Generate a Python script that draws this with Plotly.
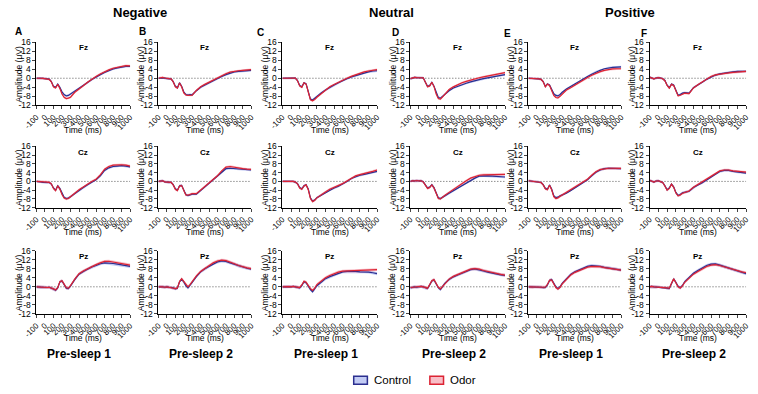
import plotly.graph_objects as go

# ---------------- data ----------------
t_ms = [-100, -75, -50, -25, 0, 25, 50, 75, 100, 125, 150, 175, 200, 225, 250, 275,
        300, 350, 400, 450, 500, 550, 600, 650, 700, 750, 800, 850, 900, 950, 1000]

x_ticks = [-100, 0, 100, 200, 300, 400, 500, 600, 700, 800, 900, 1000]
y_ticks = [-12, -8, -4, 0, 4, 8, 12, 16]

valences = ["Negative", "Neutral", "Positive"]
sessions = ["Pre-sleep 1", "Pre-sleep 2", "Pre-sleep 1", "Pre-sleep 2", "Pre-sleep 1", "Pre-sleep 2"]
panel_letters = ["A", "B", "C", "D", "E", "F"]
channels = ["Fz", "Cz", "Pz"]
conditions = ["Control", "Odor"]

# SEM (µV) per channel row
sem_control = [0.5, 0.55, 0.65]
sem_odor = [0.5, 0.55, 0.65]

# --- Fz ---
fz_A_control = [0, 0.1, 0, -0.1, -0.2, -0.2, -0.4, -1.5, -3.6, -4.0, -2.6, -4.0, -6.0, -7.2, -7.8, -7.6, -7.0, -5.8, -4.6, -3.2, -1.9, -0.6, 0.6, 1.6, 2.6, 3.4, 4.1, 4.6, 5.0, 5.2, 5.2]
fz_A_odor = [0, 0.1, 0, -0.1, -0.2, -0.3, -0.5, -1.6, -3.8, -4.3, -2.7, -4.5, -7.0, -8.4, -9.0, -8.8, -8.4, -6.2, -4.9, -3.3, -1.8, -0.4, 0.8, 1.9, 2.9, 3.7, 4.4, 4.9, 5.3, 5.6, 5.5]
fz_B_control = [0, 0.1, 0.3, 0.1, -0.2, -0.2, -0.3, -1.5, -3.5, -4.2, -2.0, -3.5, -6.0, -7.2, -7.4, -7.2, -7.3, -5.5, -4.0, -3.0, -2.0, -1.2, -0.2, 0.8, 1.6, 2.3, 2.8, 3.0, 3.2, 3.4, 3.5]
fz_B_odor = [0, 0.1, 0.4, 0.1, -0.2, -0.2, -0.3, -1.6, -3.8, -4.4, -2.1, -3.8, -6.5, -7.4, -7.6, -7.5, -7.5, -5.4, -3.8, -2.7, -1.7, -0.8, 0.2, 1.2, 2.0, 2.7, 3.1, 3.3, 3.5, 3.7, 3.8]
fz_C_control = [0, 0, 0, 0, 0.1, 0.2, 0.1, -1.0, -3.2, -3.8, -2.0, -2.5, -6.5, -9.2, -9.6, -8.8, -7.8, -6.5, -5.2, -4.0, -3.0, -2.0, -1.0, -0.2, 0.6, 1.2, 1.8, 2.4, 2.8, 3.2, 3.3]
fz_C_odor = [0, 0, 0, 0, 0.1, 0.2, 0.1, -1.1, -3.4, -4.0, -2.0, -2.6, -6.8, -9.5, -10.0, -9.4, -8.4, -6.8, -5.2, -3.8, -2.8, -1.8, -0.9, 0, 0.8, 1.5, 2.2, 2.8, 3.2, 3.6, 3.8]
fz_D_control = [-0.3, 0.2, 0.4, 0.3, 0.3, 0.5, 0.2, -1.8, -3.6, -3.2, -1.8, -3.5, -6.5, -8.5, -8.8, -8.0, -7.0, -5.5, -4.3, -3.5, -2.8, -2.2, -1.6, -1.0, -0.6, -0.2, 0.2, 0.6, 1.0, 1.4, 1.6]
fz_D_odor = [-0.2, 0.2, 0.4, 0.3, 0.3, 0.5, 0.2, -1.8, -3.8, -3.4, -1.8, -3.7, -7.0, -9.0, -9.2, -8.2, -7.0, -5.0, -3.8, -2.8, -2.0, -1.4, -0.8, -0.3, 0.2, 0.6, 1.0, 1.4, 1.8, 2.2, 2.5]
fz_E_control = [0, 0, 0, -0.1, -0.2, -0.3, -0.5, -1.5, -3.6, -2.5, -3.0, -5.0, -6.8, -7.6, -7.8, -7.2, -6.2, -4.8, -3.6, -2.6, -1.6, -0.4, 0.8, 1.8, 2.8, 3.5, 4.2, 4.6, 4.8, 4.9, 5.0]
fz_E_odor = [0, 0, 0, -0.1, -0.2, -0.3, -0.5, -1.6, -3.8, -2.6, -3.2, -5.5, -7.6, -8.5, -8.7, -8.0, -7.0, -5.2, -4.2, -3.0, -2.0, -0.9, 0.3, 1.3, 2.2, 2.9, 3.5, 3.9, 4.1, 4.2, 4.2]
fz_F_control = [0.5, 0.1, -0.3, 0.1, 0.3, 0.1, -0.2, -1.0, -3.0, -4.2, -2.6, -3.0, -5.5, -7.5, -7.2, -6.6, -6.4, -6.6, -4.2, -2.8, -1.8, -0.5, 0.6, 1.4, 1.9, 2.3, 2.6, 2.8, 3.0, 3.0, 3.0]
fz_F_odor = [0.5, 0.1, -0.3, 0.1, 0.3, 0.1, -0.2, -1.1, -3.2, -4.4, -2.7, -3.2, -5.8, -7.8, -7.5, -6.9, -6.6, -6.8, -4.3, -2.9, -1.7, -0.3, 0.8, 1.5, 1.9, 2.2, 2.4, 2.6, 2.8, 2.9, 3.0]

# --- Cz ---
cz_A_control = [0, 0, -0.2, -0.4, -0.5, -0.6, -0.5, -1.2, -3.0, -4.0, -2.0, -3.2, -5.5, -7.2, -7.8, -7.6, -7.0, -5.5, -4.0, -2.8, -1.5, -0.3, 0.8, 2.5, 5.0, 6.2, 6.8, 7.0, 7.2, 7.0, 6.6]
cz_A_odor = [0, 0, -0.1, -0.2, -0.3, -0.3, -0.4, -1.1, -3.2, -4.2, -2.0, -3.5, -6.0, -7.6, -8.0, -7.8, -7.0, -5.3, -3.8, -2.6, -1.2, 0, 1.0, 3.0, 5.6, 6.8, 7.4, 7.6, 7.6, 7.4, 7.0]
cz_B_control = [0, 0, 0.3, -0.2, -0.3, -0.6, -0.4, -1.5, -3.4, -4.0, -2.0, -1.8, -4.0, -6.0, -6.5, -6.0, -5.8, -5.8, -4.2, -2.4, -0.8, 0.6, 2.2, 4.2, 5.8, 6.0, 5.8, 5.7, 5.6, 5.4, 5.2]
cz_B_odor = [0, 0, 0.3, -0.2, -0.3, -0.5, -0.4, -1.6, -3.6, -4.2, -2.1, -1.9, -4.4, -6.2, -6.3, -5.8, -5.6, -5.6, -4.0, -2.2, -0.6, 0.9, 2.6, 4.8, 6.5, 6.8, 6.4, 6.0, 5.8, 5.6, 5.5]
cz_C_control = [0, 0, 0, 0.2, 0, 0, -0.3, -1.0, -2.8, -3.4, -2.0, -1.5, -3.5, -7.5, -9.0, -8.5, -7.4, -6.2, -5.0, -3.8, -3.0, -2.2, -1.2, 0, 1.3, 2.2, 2.8, 3.2, 3.6, 4.2, 4.6]
cz_C_odor = [0, 0, 0, 0.2, 0, 0, -0.3, -1.1, -3.0, -3.6, -2.1, -1.6, -3.8, -7.8, -9.2, -8.6, -7.5, -6.0, -4.8, -3.6, -2.8, -2.0, -1.0, 0.2, 1.5, 2.5, 3.1, 3.5, 3.9, 4.6, 5.2]
cz_D_control = [0, 0.3, 0.2, 0.4, 0.2, 0.3, -0.2, -1.5, -3.0, -2.6, -1.5, -2.8, -5.5, -7.5, -7.8, -7.0, -6.6, -5.4, -4.2, -3.0, -1.8, -0.6, 0.5, 1.5, 2.4, 2.6, 2.5, 2.4, 2.3, 2.2, 2.0]
cz_D_odor = [0, 0.3, 0.2, 0.4, 0.2, 0.3, -0.2, -1.6, -3.2, -2.8, -1.6, -3.0, -5.8, -7.8, -8.0, -7.0, -6.4, -5.0, -3.6, -2.2, -1.0, 0.3, 1.5, 2.3, 2.8, 3.0, 3.0, 3.1, 3.2, 3.2, 3.2]
cz_E_control = [0.3, 0.2, 0, -0.1, 0, -0.2, -0.5, -1.5, -3.2, -3.6, -1.6, -3.5, -6.5, -7.4, -7.2, -6.6, -6.2, -5.4, -4.2, -3.0, -1.6, -0.4, 0.8, 2.5, 4.2, 5.2, 5.8, 6.0, 6.0, 5.9, 5.8]
cz_E_odor = [0.3, 0.2, 0, -0.1, 0, -0.2, -0.5, -1.6, -3.4, -3.8, -1.7, -3.8, -7.0, -7.8, -7.5, -6.8, -6.2, -5.2, -4.0, -2.8, -1.4, -0.2, 1.0, 2.8, 4.4, 5.4, 5.8, 6.0, 6.0, 5.9, 5.9]
cz_F_control = [0.5, 0.2, -0.3, 0.2, 0.3, -0.1, -0.5, -2.0, -3.8, -3.0, -1.2, -2.5, -5.0, -6.4, -6.0, -5.2, -5.0, -4.5, -2.8, -1.5, -0.6, 0.6, 2.0, 3.4, 4.5, 5.0, 5.0, 4.6, 4.3, 3.9, 3.8]
cz_F_odor = [0.5, 0.2, -0.3, 0.2, 0.3, -0.1, -0.5, -2.1, -4.0, -3.2, -1.3, -2.7, -5.3, -6.6, -6.2, -5.4, -5.1, -4.4, -2.7, -1.4, -0.5, 0.8, 2.2, 3.6, 4.8, 5.2, 5.2, 4.8, 4.5, 4.3, 4.2]

# --- Pz ---
pz_A_control = [0, -0.1, -0.3, -0.2, -0.4, -0.3, -0.2, -0.5, -1.0, -1.5, -0.5, 2.2, 2.6, 1.0, -0.6, -0.8, 0.3, 3.2, 5.6, 6.8, 7.8, 8.8, 9.4, 10.2, 10.6, 10.6, 10.3, 10.0, 9.6, 9.3, 9.0]
pz_A_odor = [0, -0.1, -0.2, -0.2, -0.3, -0.3, -0.2, -0.4, -0.9, -1.4, -0.4, 2.3, 2.7, 1.2, -0.4, -0.6, 0.5, 3.4, 5.8, 7.0, 8.0, 9.0, 9.8, 10.6, 11.2, 11.3, 11.0, 10.8, 10.4, 10.0, 9.6]
pz_B_control = [0, 0.1, 0, -0.2, 0, -0.2, -0.3, -0.5, -0.9, -0.6, 2.2, 3.4, 2.2, 0.5, -0.5, 0.6, 2.0, 4.5, 6.6, 8.0, 9.0, 10.2, 11.0, 11.4, 11.2, 10.6, 10.0, 9.2, 8.6, 8.2, 7.8]
pz_B_odor = [0, 0.1, 0, -0.2, 0, -0.2, -0.3, -0.4, -0.8, -0.5, 2.3, 3.6, 2.4, 0.8, 0, 1.0, 2.4, 4.8, 6.8, 8.2, 9.4, 10.6, 11.4, 11.8, 11.6, 11.0, 10.2, 9.4, 8.8, 8.4, 8.0]
pz_C_control = [0, 0.1, 0, 0.1, 0, 0.2, 0, -0.4, -0.5, 0.5, 2.2, 1.8, 0.2, -1.2, -2.2, -1.0, 0.5, 2.0, 3.6, 4.5, 5.2, 6.0, 6.6, 6.8, 6.9, 6.8, 6.6, 6.6, 6.5, 6.2, 5.8]
pz_C_odor = [0, 0.1, 0, 0.1, 0, 0.2, 0, -0.3, -0.3, 0.8, 2.4, 2.0, 0.5, -0.8, -1.6, -0.6, 1.0, 2.6, 4.0, 5.0, 5.8, 6.5, 6.9, 7.0, 7.1, 7.0, 7.0, 7.1, 7.2, 7.4, 7.6]
pz_D_control = [-0.5, -0.2, 0, -0.2, 0, 0.2, 0, -0.5, -0.8, 0.8, 2.6, 3.0, 1.4, -0.4, -1.2, 0, 1.5, 3.2, 4.4, 5.2, 6.0, 6.8, 7.6, 7.9, 7.6, 7.0, 6.5, 6.0, 5.6, 5.3, 5.0]
pz_D_odor = [-0.3, -0.2, 0, -0.1, 0, 0.2, 0, -0.3, -0.6, 1.0, 2.7, 3.2, 1.6, -0.2, -0.9, 0.2, 1.6, 3.4, 4.6, 5.4, 6.2, 7.0, 7.8, 8.0, 7.8, 7.2, 6.7, 6.2, 5.8, 5.5, 5.2]
pz_E_control = [0, 0, -0.2, 0, 0, 0, -0.2, -0.4, -0.3, 0.8, 2.8, 3.2, 1.5, 0, -0.8, 0, 1.5, 3.6, 5.4, 6.6, 7.4, 8.2, 9.0, 9.4, 9.3, 9.0, 8.6, 8.3, 8.0, 7.8, 7.4]
pz_E_odor = [0, 0, -0.2, 0, 0, 0, -0.1, -0.2, -0.2, 1.0, 2.9, 3.0, 1.2, -0.3, -1.0, -0.2, 1.3, 3.4, 5.2, 6.4, 7.2, 8.0, 8.7, 9.0, 9.1, 8.9, 8.5, 8.2, 7.9, 7.6, 7.4]
pz_F_control = [0, 0.2, 0, -0.1, 0.1, 0, -0.3, -0.2, -0.6, -0.8, 1.5, 3.5, 2.0, 0.2, -0.4, 0.6, 2.2, 4.2, 6.0, 7.2, 8.4, 9.4, 10.0, 10.1, 9.6, 9.0, 8.4, 7.8, 7.0, 6.4, 5.8]
pz_F_odor = [0, 0.2, 0, -0.1, 0.1, 0, -0.2, -0.2, -0.4, -0.6, 1.6, 3.5, 1.8, 0, -0.5, 0.4, 2.0, 4.0, 5.6, 6.8, 8.0, 9.0, 9.6, 9.8, 9.4, 8.8, 8.3, 7.8, 7.2, 6.6, 6.2]

data_control = [
    [fz_A_control, fz_B_control, fz_C_control, fz_D_control, fz_E_control, fz_F_control],
    [cz_A_control, cz_B_control, cz_C_control, cz_D_control, cz_E_control, cz_F_control],
    [pz_A_control, pz_B_control, pz_C_control, pz_D_control, pz_E_control, pz_F_control],
]
data_odor = [
    [fz_A_odor, fz_B_odor, fz_C_odor, fz_D_odor, fz_E_odor, fz_F_odor],
    [cz_A_odor, cz_B_odor, cz_C_odor, cz_D_odor, cz_E_odor, cz_F_odor],
    [pz_A_odor, pz_B_odor, pz_C_odor, pz_D_odor, pz_E_odor, pz_F_odor],
]

# ---------------- layout geometry (pixels) ----------------
W, H = 758, 394
col_px = [(24, 120), (149, 244), (276, 373), (407, 504), (528, 623), (652, 751)]
row_px = [(38, 103), (145, 208), (252, 317)]

def fx(p):
    return p / W

def fy(p):
    return 1 - p / H

FONT = "Liberation Sans, Arial, sans-serif"
C_LINE = "#2b2f8f"
C_BAND = "rgba(120,140,230,0.45)"
O_LINE = "#dc2333"
O_BAND = "rgba(240,110,130,0.45)"

fig = go.Figure()
layout = dict(width=W, height=H, margin=dict(l=0, r=0, t=0, b=0),
              plot_bgcolor="white", paper_bgcolor="white", showlegend=False,
              font=dict(family=FONT, color="black"))
annotations = []
shapes = []

n = 0
for r in range(3):
    for c in range(6):
        n += 1
        xa = "x" if n == 1 else f"x{n}"
        ya = "y" if n == 1 else f"y{n}"
        xkey = "xaxis" if n == 1 else f"xaxis{n}"
        ykey = "yaxis" if n == 1 else f"yaxis{n}"
        x0, x1 = col_px[c]
        y0, y1 = row_px[r]
        layout[xkey] = dict(domain=[fx(x0), fx(x1)], anchor=ya, range=[-100, 1000],
                            tickmode="array", tickvals=x_ticks, ticktext=[str(v) for v in x_ticks],
                            tickangle=-45, ticks="outside", ticklen=3, tickwidth=1,
                            showline=True, linecolor="black", linewidth=1,
                            showgrid=False, zeroline=False, tickfont=dict(size=8, family=FONT))
        layout[ykey] = dict(domain=[fy(y1), fy(y0)], anchor=xa, range=[-12, 16],
                            tickmode="array", tickvals=y_ticks, ticktext=[str(v) for v in y_ticks],
                            ticks="outside", ticklen=3, tickwidth=1,
                            showline=True, linecolor="black", linewidth=1,
                            showgrid=False, zeroline=False, tickfont=dict(size=8.5, family=FONT))
        # zero line
        fig.add_trace(go.Scatter(x=[-100, 1000], y=[0, 0], mode="lines", xaxis=xa, yaxis=ya,
                                 line=dict(color="#444444", width=0.9, dash="1px,2px"), hoverinfo="skip"))
        ctl = data_control[r][c]
        odr = data_odor[r][c]
        for vals, sem, band in ((ctl, sem_control[r], C_BAND), (odr, sem_odor[r], O_BAND)):
            up = [v + sem for v in vals]
            lo = [v - sem for v in vals]
            fig.add_trace(go.Scatter(x=t_ms + t_ms[::-1], y=up + lo[::-1], mode="lines",
                                     fill="toself", fillcolor=band, line=dict(width=0),
                                     xaxis=xa, yaxis=ya, hoverinfo="skip"))
        fig.add_trace(go.Scatter(x=t_ms, y=ctl, mode="lines", xaxis=xa, yaxis=ya,
                                 line=dict(color=C_LINE, width=1.2), name="Control"))
        fig.add_trace(go.Scatter(x=t_ms, y=odr, mode="lines", xaxis=xa, yaxis=ya,
                                 line=dict(color=O_LINE, width=1.2), name="Odor"))
        # channel label
        annotations.append(dict(x=fx((x0 + x1) / 2), y=fy(y0 + 6), xref="paper", yref="paper",
                                text=f"<b>{channels[r]}</b>", showarrow=False,
                                font=dict(size=8, family=FONT), xanchor="center", yanchor="middle"))
        # x title
        annotations.append(dict(x=fx((x0 + x1) / 2), y=fy(y1 + 25), xref="paper", yref="paper",
                                text="Time (ms)", showarrow=False,
                                font=dict(size=8.5, family=FONT), xanchor="center", yanchor="middle"))
        # y title
        annotations.append(dict(x=fx(x0 - 18), y=fy((y0 + y1) / 2), xref="paper", yref="paper",
                                text="Amplitude (μV)", showarrow=False, textangle=-90,
                                font=dict(size=8.5, family=FONT), xanchor="center", yanchor="middle"))

# panel letters
letter_px = [(6, 27), (133, 27), (254, 28), (392, 28), (507, 29), (646, 29)]
for L, (lx, ly) in zip(panel_letters, letter_px):
    annotations.append(dict(x=fx(lx), y=fy(ly), xref="paper", yref="paper", text=f"<b>{L}</b>",
                            showarrow=False, font=dict(size=10, family=FONT),
                            xanchor="center", yanchor="middle"))

# valence titles
title_px = [130, 388, 632]
for name, tx in zip(valences, title_px):
    annotations.append(dict(x=fx(tx), y=fy(8), xref="paper", yref="paper", text=f"<b>{name}</b>",
                            showarrow=False, font=dict(size=13, family=FONT),
                            xanchor="center", yanchor="middle"))

# session labels
for c, s in enumerate(sessions):
    x0, x1 = col_px[c]
    annotations.append(dict(x=fx((x0 + x1) / 2 - 4), y=fy(358), xref="paper", yref="paper",
                            text=f"<b>{s}</b>", showarrow=False, font=dict(size=12, family=FONT),
                            xanchor="center", yanchor="middle"))

# legend (drawn)
leg_items = [(349, C_BAND, C_LINE, conditions[0]), (427, O_BAND, O_LINE, conditions[1])]
for lx, band, line, label in leg_items:
    shapes.append(dict(type="rect", xref="paper", yref="paper",
                       x0=fx(lx), x1=fx(lx + 14), y0=fy(389), y1=fy(381),
                       fillcolor=band, line=dict(color=line, width=1.5)))
    annotations.append(dict(x=fx(lx + 19), y=fy(385), xref="paper", yref="paper", text=label,
                            showarrow=False, font=dict(size=11.5, family=FONT),
                            xanchor="left", yanchor="middle"))

layout["annotations"] = annotations
layout["shapes"] = shapes
fig.update_layout(**layout)
fig.write_html("out.html")
